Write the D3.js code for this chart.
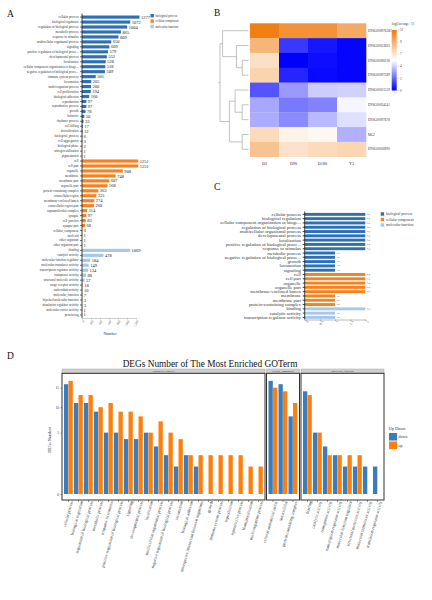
<!DOCTYPE html>
<html><head><meta charset="utf-8">
<script src="https://cdn.jsdelivr.net/npm/d3@7"></script>
<style>
body{margin:0;background:#fff}
svg{display:block}
text{font-family:"Liberation Serif","Times New Roman",serif}
</style>
</head><body>
<svg id="c" width="432" height="600"></svg>
<script>
// ---------- Panel A data ----------
const aBpTerms = ["cellular process","biological regulation","regulation of biological process","metabolic process","response to stimulus","multicellular organismal process","signaling","positive regulation of biological proce...","developmental process","localization","cellular component organization or bioge...","negative regulation of biological proce...","immune system process","locomotion","multi-organism process","cell proliferation","biological adhesion","reproduction","reproductive process","growth","behavior","rhythmic process","cell killing","detoxification","biological_process","cell aggregation","biological phase","nitrogen utilization","pigmentation"];
const aBpCounts = [1277,1072,1004,865,809,650,609,579,552,528,518,509,305,205,200,194,160,97,97,78,50,33,17,12,6,3,2,1,1];
const aCcTerms = ["cell","cell part","organelle","membrane","membrane part","organelle part","protein-containing complex","extracellular region","membrane-enclosed lumen","extracellular region part","supramolecular complex","synapse","cell junction","synapse part","cellular_component","nucleoid","other organism","other organism part"];
const aCcCounts = [1251,1251,908,748,607,568,363,321,274,268,114,97,83,68,6,1,1,1];
const aMfTerms = ["binding","catalytic activity","molecular function regulator","molecular transducer activity","transcription regulator activity","transporter activity","structural molecule activity","cargo receptor activity","antioxidant activity","molecular_function","hijacked molecular function","translation regulator activity","molecular carrier activity","protein tag"];
const aMfCounts = [1069,478,184,149,134,88,57,18,10,7,3,3,1,1];
const aTicks = [0,200,400,600,800,1000,1200];
const ontologies = ["biological process","cellular component","molecular function"];

// ---------- Panel B data ----------
const hmGenes = ["ENSG00097636C","ENSG00033603","ENSG00096118","ENSG00097589","ENSG00031559","ENSG00034141","ENSG00097678","MGJ","ENSG00036990"];
const hmSamples = ["D3","D90","D180","Y3"];
const hmValues = [
  [10.8,10.0,10.0,9.0],
  [8.5,1.2,0.5,0.1],
  [6.8,0.0,0.3,0.1],
  [7.3,0.8,0.2,0.1],
  [1.8,3.3,4.4,4.5],
  [3.6,2.6,2.8,5.3],
  [3.7,3.0,4.0,4.8],
  [7.0,6.0,5.8,3.8],
  [8.0,6.7,7.0,7.2]
];
const hmLegendTicks = [0,2.2,4.4,6.6,8.8,11];
// dendrogram merge heights (relative), leaves are row indexes
const hmTree = {h:1.0,c:[{h:0.91,c:[0,{h:0.42,c:[1,{h:0.22,c:[2,3]}]}]},{h:0.67,c:[{h:0.47,c:[4,{h:0.22,c:[5,6]}]},{h:0.22,c:[7,8]}]}]};

// ---------- Panel C data ----------
const cBpTerms = ["cellular process","biological regulation","cellular component organization or bioge...","regulation of biological process","multicellular organismal process","developmental process","localization","positive regulation of biological proce...","response to stimulus","metabolic process","negative regulation of biological proce...","growth","locomotion","signaling"];
const cBpCounts = [2,2,2,2,2,2,2,2,2,1,1,1,1,1];
const cCcTerms = ["cell","cell part","organelle","organelle part","membrane-enclosed lumen","membrane","membrane part","protein-containing complex"];
const cCcCounts = [2,2,2,2,2,1,1,1];
const cMfTerms = ["binding","catalytic activity","transcription regulator activity"];
const cMfCounts = [2,1,1];
const cTicks = [0,0.5,1,1.5,2];

// ---------- Panel D data ----------
const dBpTerms = ["cellular process","biological regulation","regulation of biological process","metabolic process","response to stimulus","positive regulation of biological process","signaling","developmental process","localization","multicellular organismal process","negative regulation of biological process","locomotion","biological adhesion","interspecies interaction between organisms","growth","immune system process","reproduction","reproductive process","biomineralization","multi-organism process"];
const dBpDown = [16,11,11,9,5,5,4,4,5,3,2,1,2,1,0,0,0,0,0,0];
const dBpUp   = [17,13,13,10,11,9,9,8,5,7,5,4,2,2,2,2,2,2,1,1];
const dCcTerms = ["cellular anatomical entity","intracellular","protein-containing complex"];
const dCcDown = [17,16,8];
const dCcUp   = [15,14,11];
const dMfTerms = ["binding","catalytic activity","transporter activity","transcription regulator activity","molecular function regulator","structural molecule activity","molecular transducer activity","translation regulator activity"];
const dMfDown = [14,5,3,2,1,1,1,1];
const dMfUp   = [13,5,2,2,2,2,0,0];
const dTicks = [0,5,10,15];
const dFacets = ["biological_process","cellular_component","molecular_function"];
const dDirections = ["down","up"];

// ---------- styles ----------
const ontColors = ["#2e70b4","#f5821f","#a8c8ea"];
const dirColors = ["#3a7dbd","#ff7f0e"];

const svg = d3.select("#c");

function panelLetter(t,x,y){
  svg.append("text").attr("x",x).attr("y",y).attr("font-size",9.5).attr("fill","#111").text(t);
}
panelLetter("A",7,16.5);
panelLetter("B",214,15.5);
panelLetter("C",214,190);
panelLetter("D",7,358.5);

// ================= Panel A =================
(function(){
  const terms = aBpTerms.concat(aCcTerms,aMfTerms);
  const vals = aBpCounts.concat(aCcCounts,aMfCounts);
  const grp = terms.map((t,i)=> i<aBpTerms.length?0:(i<aBpTerms.length+aCcTerms.length?1:2));
  const y = d3.scaleBand().domain(d3.range(terms.length)).range([15.5,316.5]).paddingInner(0.36);
  const x = d3.scaleLinear().domain([0,1200]).range([82,136]);
  const g = svg.append("g");
  g.selectAll("rect.bar").data(vals).join("rect")
    .attr("x",x(0)).attr("y",(d,i)=>y(i)).attr("width",d=>x(d)-x(0)).attr("height",y.bandwidth())
    .attr("fill",(d,i)=>ontColors[grp[i]]);
  g.selectAll("text.val").data(vals).join("text")
    .attr("x",d=>x(d)+1.5).attr("y",(d,i)=>y(i)+y.bandwidth()/2).attr("dy","0.35em")
    .attr("font-size",4.5).attr("fill","#222").text(d=>d);
  const ax = g.append("g").attr("transform",`translate(${x(0)},0)`)
    .call(d3.axisLeft(y).tickFormat(i=>terms[i]).tickSize(2).tickSizeOuter(0).tickPadding(1.5));
  ax.select(".domain").attr("stroke","#111").attr("stroke-width",0.8).attr("d",`M0,13.5V318`);
  ax.selectAll(".tick line").attr("stroke","#111").attr("stroke-width",0.6);
  ax.selectAll(".tick text").attr("font-size",3.2).attr("fill","#333").attr("font-family","Liberation Serif");
  const bx = g.append("g").attr("transform","translate(0,318)")
    .call(d3.axisBottom(x).tickValues(aTicks).tickSize(1.5).tickSizeOuter(0));
  bx.select(".domain").attr("stroke","#888").attr("stroke-width",0.4);
  bx.selectAll(".tick line").attr("stroke","#888").attr("stroke-width",0.4);
  bx.selectAll(".tick text").attr("font-size",3).attr("fill","#666").attr("font-family","Liberation Serif")
    .attr("text-anchor","end").attr("transform","translate(0,1) rotate(-60)").attr("dy","0.3em").attr("dx","-0.3em").attr("y",2);
  g.append("text").attr("x",110).attr("y",335).attr("text-anchor","middle").attr("font-size",4).attr("fill","#333").text("Number");
  // legend
  const lg = g.append("g");
  ontologies.forEach((o,i)=>{
    lg.append("rect").attr("x",150.5).attr("y",14 + i*5.4).attr("width",3.4).attr("height",3.4).attr("fill",ontColors[i]);
    lg.append("text").attr("x",155.5).attr("y",15.7+i*5.4).attr("dy","0.35em").attr("font-size",3).attr("fill","#333").text(o);
  });
})();

// ================= Panel B =================
(function(){
  const x = d3.scaleBand().domain(hmSamples).range([250,366]);
  const y = d3.scaleBand().domain(d3.range(hmGenes.length)).range([23.3,156.7]);
  const color = d3.scaleLinear().domain([0,5.5,11]).range(["#0000ff","#ffffff","#f07a0a"]);
  const g = svg.append("g");
  hmValues.forEach((row,r)=>{
    g.selectAll(null).data(row).join("rect")
      .attr("x",(d,c)=>x(hmSamples[c])).attr("y",y(r)).attr("width",x.bandwidth()+0.3).attr("height",y.bandwidth()+0.3)
      .attr("fill",d=>color(d));
  });
  g.selectAll("text.rl").data(hmGenes).join("text")
    .attr("x",368).attr("y",(d,i)=>y(i)+y.bandwidth()/2).attr("dy","0.35em")
    .attr("font-size",3.3).attr("fill","#333").text(d=>d);
  g.selectAll("text.cl").data(hmSamples).join("text")
    .attr("x",d=>x(d)+x.bandwidth()/2).attr("y",164.5).attr("text-anchor","middle")
    .attr("font-size",4.2).attr("fill","#333").text(d=>d);
  // dendrogram
  const hx = d3.scaleLinear().domain([0,1]).range([248.5,220]);
  const dg = g.append("g").attr("stroke","#999").attr("stroke-width",0.6).attr("fill","none");
  function draw(n){
    if(typeof n==="number") return {x:hx(0), y:y(n)+y.bandwidth()/2};
    const kids = n.c.map(draw);
    const nx = hx(n.h);
    const ys = kids.map(k=>k.y);
    dg.append("line").attr("x1",nx).attr("x2",nx).attr("y1",d3.min(ys)).attr("y2",d3.max(ys));
    kids.forEach(k=>dg.append("line").attr("x1",nx).attr("x2",k.x).attr("y1",k.y).attr("y2",k.y));
    return {x:nx, y:d3.mean(ys)};
  }
  const root = draw(hmTree);
  dg.append("line").attr("x1",root.x).attr("x2",root.x-1.5).attr("y1",root.y).attr("y2",root.y);
  // legend
  const defs = svg.append("defs");
  const lgd = defs.append("linearGradient").attr("id","hmg").attr("x1",0).attr("x2",0).attr("y1",1).attr("y2",0);
  d3.range(0,11.01,0.5).forEach(v=>lgd.append("stop").attr("offset",v/11).attr("stop-color",color(v)));
  const ly = d3.scaleLinear().domain([0,11]).range([90.5,30]);
  g.append("rect").attr("x",391.7).attr("y",30).attr("width",5).attr("height",60.5).attr("fill","url(#hmg)");
  g.selectAll("text.lt").data(hmLegendTicks).join("text")
    .attr("x",400).attr("y",d=>ly(d)).attr("dy","0.35em").attr("font-size",3.3).attr("fill","#444")
    .text(d=>d3.format(".0f")(d));
  g.selectAll("line.lt").data(hmLegendTicks).join("line")
    .attr("x1",397.5).attr("x2",399).attr("y1",d=>ly(d)).attr("y2",d=>ly(d)).attr("stroke","#999").attr("stroke-width",0.4);
  g.append("text").attr("x",391.7).attr("y",25).attr("font-size",3.5).attr("fill","#333").text("log(Average+1)");
})();

// ================= Panel C =================
(function(){
  const terms = cBpTerms.concat(cCcTerms,cMfTerms);
  const vals = cBpCounts.concat(cCcCounts,cMfCounts);
  const grp = terms.map((t,i)=> i<cBpTerms.length?0:(i<cBpTerms.length+cCcTerms.length?1:2));
  const y = d3.scaleBand().domain(d3.range(terms.length)).range([212.9,318.9]).paddingInner(0.32);
  const x = d3.scaleLinear().domain([0,2]).range([304.7,365.3]);
  const g = svg.append("g");
  g.selectAll("rect").data(vals).join("rect")
    .attr("x",x(0)).attr("y",(d,i)=>y(i)).attr("width",d=>x(d)-x(0)).attr("height",y.bandwidth())
    .attr("fill",(d,i)=>ontColors[grp[i]]);
  g.selectAll("text.val").data(vals).join("text")
    .attr("transform",(d,i)=>`translate(${x(d)+3},${y(i)+y.bandwidth()/2}) rotate(90)`)
    .attr("text-anchor","middle").attr("dy","0.35em").attr("font-size",3.2).attr("fill","#666").text(d=>d);
  const ax = g.append("g").attr("transform",`translate(${x(0)},0)`)
    .call(d3.axisLeft(y).tickFormat(i=>terms[i]).tickSize(2).tickSizeOuter(0).tickPadding(1.8));
  ax.select(".domain").attr("stroke","#111").attr("stroke-width",0.8).attr("d","M0,211.5V319.5");
  ax.selectAll(".tick line").attr("stroke","#111").attr("stroke-width",0.8);
  ax.selectAll(".tick text").attr("font-size",4.7).attr("fill","#333").attr("font-family","Liberation Serif");
  const bx = g.append("g").attr("transform","translate(0,319.5)")
    .call(d3.axisBottom(x).tickValues(cTicks).tickSize(1.5).tickSizeOuter(0).tickFormat(d3.format("")));
  bx.select(".domain").attr("stroke","#777").attr("stroke-width",0.5);
  bx.selectAll(".tick line").attr("stroke","#777").attr("stroke-width",0.5);
  bx.selectAll(".tick text").attr("font-size",3.8).attr("fill","#666").attr("font-family","Liberation Serif")
    .attr("text-anchor","end").attr("y",2.5).attr("dy","0.3em").attr("transform","rotate(-60)");
  ontologies.forEach((o,i)=>{
    g.append("rect").attr("x",380.7).attr("y",212.3+i*5.5).attr("width",3.4).attr("height",3.4).attr("fill",ontColors[i]);
    g.append("text").attr("x",386).attr("y",214+i*5.5).attr("dy","0.35em").attr("font-size",3.6).attr("fill","#333").text(o);
  });
})();

// ================= Panel D =================
(function(){
  const g = svg.append("g");
  const y = d3.scaleSqrt().domain([0,15]).range([494,387.7]);
  const facets = [
    {name:dFacets[0], terms:dBpTerms, down:dBpDown, up:dBpUp},
    {name:dFacets[1], terms:dCcTerms, down:dCcDown, up:dCcUp},
    {name:dFacets[2], terms:dMfTerms, down:dMfDown, up:dMfUp}
  ];
  const step = 10, margin = 1.5, gap = 1.5;
  let x0 = 62;
  const top = 373.3, bottom = 500;
  facets.forEach((f,fi)=>{
    const w = f.terms.length*step + 2*margin;
    const x = d3.scaleBand().domain(f.terms).range([x0+margin, x0+w-margin]);
    const bw = x.bandwidth();
    // strip
    g.append("rect").attr("x",x0).attr("y",369).attr("width",w).attr("height",top-369).attr("fill","#cfcfcf").attr("stroke","#999").attr("stroke-width",0.4);
    g.append("text").attr("x",x0+w/2).attr("y",371.3).attr("dy","0.35em").attr("text-anchor","middle").attr("font-size",2.8).attr("fill","#333").text(f.name);
    // bars
    [f.down,f.up].forEach((arr,k)=>{
      g.selectAll(null).data(arr).join("rect")
        .attr("x",(d,i)=>x(f.terms[i]) + bw*(0.05+0.45*k))
        .attr("y",d=>y(d)).attr("width",bw*0.45-0.2).attr("height",d=>y(0)-y(d))
        .attr("fill",dirColors[k]);
    });
    // box
    g.append("rect").attr("x",x0).attr("y",top).attr("width",w).attr("height",bottom-top).attr("fill","none").attr("stroke","#333").attr("stroke-width",1);
    // x axis
    const ax = g.append("g").attr("transform",`translate(0,${bottom})`)
      .call(d3.axisBottom(x).tickSize(2).tickSizeOuter(0).tickPadding(2.5));
    ax.select(".domain").remove();
    ax.selectAll(".tick line").attr("stroke","#333").attr("stroke-width",0.5);
    ax.selectAll(".tick text").attr("font-size",4.3).attr("fill","#444").attr("font-family","Liberation Serif")
      .attr("text-anchor","end").attr("y",3.5).attr("dy","0.3em").attr("transform","rotate(-74)");
    if(fi===0){
      const ay = g.append("g").attr("transform",`translate(${x0},0)`)
        .call(d3.axisLeft(y).tickValues(dTicks).tickSize(1.5).tickSizeOuter(0).tickPadding(1.5));
      ay.select(".domain").remove();
      ay.selectAll(".tick line").attr("stroke","#333").attr("stroke-width",0.5);
      ay.selectAll(".tick text").attr("font-size",3.5).attr("fill","#333").attr("font-family","Liberation Serif");
    }
    x0 += w + gap;
  });
  g.append("text").attr("x",210).attr("y",367).attr("text-anchor","middle").attr("font-size",9.3).attr("fill","#111")
    .text("DEGs Number of The Most Enriched GOTerm");
  g.append("text").attr("transform","translate(51,440) rotate(-90)").attr("text-anchor","middle").attr("font-size",4.3).attr("fill","#333").text("DEGs Number");
  g.append("text").attr("x",388.7).attr("y",430).attr("font-size",4.3).attr("fill","#333").text("Up Down");
  dDirections.forEach((d,i)=>{
    g.append("rect").attr("x",389).attr("y",433+i*8.5).attr("width",8).attr("height",7.5).attr("fill",dirColors[i]);
    g.append("text").attr("x",398.5).attr("y",436.8+i*8.5).attr("dy","0.35em").attr("font-size",4).attr("fill","#333").text(d);
  });
})();
</script>
</body></html>
